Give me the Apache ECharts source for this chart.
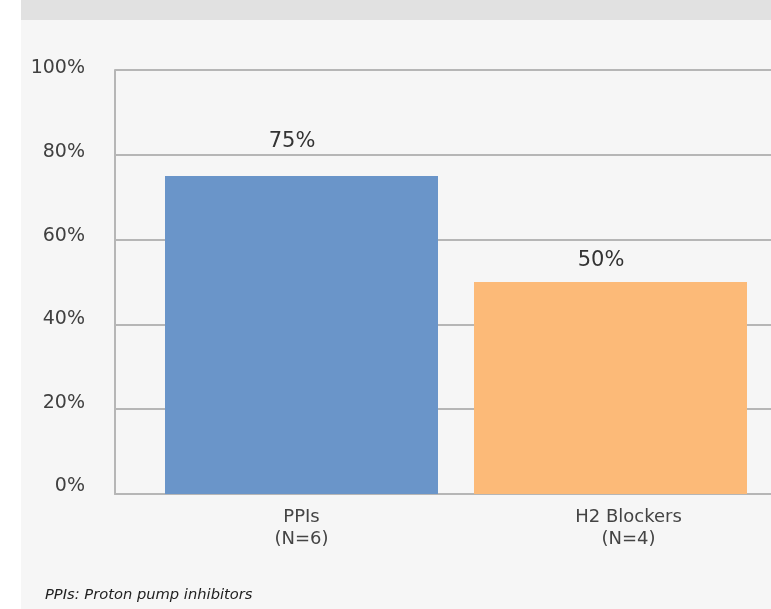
<!DOCTYPE html>
<html>
<head>
<meta charset="utf-8">
<script src="https://cdn.jsdelivr.net/npm/echarts@6/dist/echarts.min.js"></script>
<style>
  html, body { margin: 0; padding: 0; background: #ffffff; }
  #chart { width: 771px; height: 609px; }
</style>
</head>
<body>
<div id="chart"></div>
<script>
// Share of patients per drug class
const categories = ['PPIs\n(N=6)', 'H2 Blockers\n(N=4)'];
const values = [75, 50];
const barColors = ['#6a95c9', '#fcba78'];
const yTicks = [0, 20, 40, 60, 80, 100];
const footnote = 'PPIs: Proton pump inhibitors';

const FONT = '"DejaVu Sans", Verdana, sans-serif';
const AXIS_GREY = '#b6b6b6';

// tick labels sit slightly above their gridlines, more so towards the bottom
const tickRich = {};
yTicks.forEach(v => {
  const lift = 1.5 + (100 - v) / 100 * 6.5;
  tickRich['t' + v] = { fontFamily: FONT, fontSize: 19, color: '#404040', padding: [0, 0, Math.round(lift * 2), 0] };
});

// value labels: distance above each bar
const labelDistance = [24, 11];

const chart = echarts.init(document.getElementById('chart'), null, { renderer: 'canvas' });

chart.setOption({
  backgroundColor: '#ffffff',
  animation: false,
  graphic: [
    { type: 'rect', z: -10, shape: { x: 21, y: 0, width: 750, height: 609 }, style: { fill: '#f6f6f6' } },
    { type: 'rect', z: -9, shape: { x: 21, y: 0, width: 750, height: 20 }, style: { fill: '#e1e1e1' } }
  ],
  title: {
    text: footnote,
    left: 45,
    top: 588,
    padding: 0,
    textStyle: { fontFamily: FONT, fontSize: 14.7, fontStyle: 'italic', fontWeight: 'normal', color: '#222222' }
  },
  grid: [
    // frame: value axis, gridlines and baseline
    { left: 115, right: 0, top: 70, bottom: 115 },
    // bars and category labels
    { left: 147, right: 6, top: 70, bottom: 115 }
  ],
  xAxis: [
    {
      gridIndex: 0, type: 'category', data: categories,
      axisLine: { show: true, lineStyle: { color: AXIS_GREY, width: 2 } },
      axisTick: { show: false }, axisLabel: { show: false }, splitLine: { show: false }
    },
    {
      gridIndex: 1, type: 'category',
      data: categories.map((c, i) => i === 1 ? { value: c, textStyle: { padding: [0, 0, 0, 36] } } : c),
      axisLine: { show: false }, axisTick: { show: false },
      axisLabel: { fontFamily: FONT, fontSize: 18, lineHeight: 22, color: '#444444', margin: 12 }
    }
  ],
  yAxis: [
    {
      gridIndex: 0, type: 'value', min: yTicks[0], max: yTicks[yTicks.length - 1], interval: yTicks[1] - yTicks[0],
      axisLine: { show: true, lineStyle: { color: AXIS_GREY, width: 2 } },
      axisTick: { show: false },
      splitLine: { show: true, lineStyle: { color: AXIS_GREY, width: 2 } },
      axisLabel: {
        formatter: v => '{t' + v + '|' + v + '%}',
        rich: tickRich,
        fontFamily: FONT, fontSize: 19, color: '#404040', margin: 30
      }
    },
    {
      gridIndex: 1, type: 'value', min: yTicks[0], max: yTicks[yTicks.length - 1],
      show: false, splitLine: { show: false }
    }
  ],
  series: [{
    type: 'bar',
    xAxisIndex: 1,
    yAxisIndex: 1,
    barWidth: 273,
    data: values.map((v, i) => ({
      value: v,
      itemStyle: { color: barColors[i] },
      label: { distance: labelDistance[i] }
    })),
    label: {
      show: true, position: 'top', offset: [-9.5, 0],
      formatter: '{c}%', fontFamily: FONT, fontSize: 21, color: '#333333'
    }
  }]
});
</script>
</body>
</html>
